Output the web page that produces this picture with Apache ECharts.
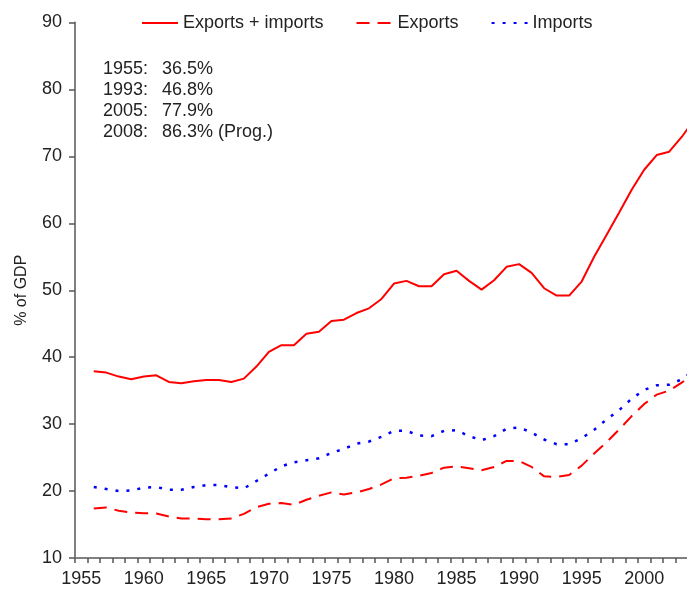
<!DOCTYPE html>
<html>
<head>
<meta charset="utf-8">
<script src="https://cdn.jsdelivr.net/npm/echarts@6/dist/echarts.min.js"></script>
<style>
  html, body { margin: 0; padding: 0; background: #fff; }
  #chart { width: 687px; height: 596px; }
</style>
</head>
<body>
<div id="chart"></div>
<script>
  // x axis categories (one band per year)
  var years = ['1955', '1956', '1957', '1958', '1959', '1960', '1961', '1962', '1963', '1964',
    '1965', '1966', '1967', '1968', '1969', '1970', '1971', '1972', '1973', '1974',
    '1975', '1976', '1977', '1978', '1979', '1980', '1981', '1982', '1983', '1984',
    '1985', '1986', '1987', '1988', '1989', '1990', '1991', '1992', '1993', '1994',
    '1995', '1996', '1997', '1998', '1999', '2000', '2001', '2002', '2003', '2004', '2005'];

  // series start in 1956
  var seriesYears = years.slice(1);

  var totalShare = [37.9, 37.7, 37.1, 36.7, 37.1, 37.3, 36.3, 36.1, 36.4, 36.6,
    36.6, 36.3, 36.8, 38.6, 40.8, 41.8, 41.8, 43.5, 43.8, 45.4,
    45.6, 46.6, 47.3, 48.7, 51.0, 51.4, 50.6, 50.6, 52.4, 52.9,
    51.4, 50.1, 51.5, 53.5, 53.9, 52.6, 50.3, 49.2, 49.2, 51.3,
    55.0, 58.3, 61.6, 65.0, 68.0, 70.2, 70.7, 72.9, 75.5, 77.9];

  var exportsShare = [17.4, 17.55, 17.05, 16.8, 16.7, 16.65, 16.2, 15.9, 15.9, 15.8,
    15.8, 15.9, 16.6, 17.6, 18.1, 18.2, 17.95, 18.7, 19.3, 19.8,
    19.5, 19.8, 20.3, 21.0, 21.9, 22.0, 22.3, 22.7, 23.5, 23.7,
    23.4, 23.1, 23.6, 24.5, 24.5, 23.6, 22.2, 22.1, 22.4, 23.8,
    25.6, 27.3, 29.2, 31.2, 33.0, 34.4, 35.0, 36.2, 37.5, 39.0];

  var importsShare = [20.6, 20.3, 20.0, 20.1, 20.5, 20.6, 20.2, 20.2, 20.6, 20.9,
    20.9, 20.6, 20.4, 21.5, 22.6, 23.7, 24.3, 24.6, 24.9, 25.7,
    26.3, 27.1, 27.4, 28.1, 29.0, 29.0, 28.3, 28.2, 29.0, 29.1,
    28.2, 27.6, 28.2, 29.3, 29.5, 28.75, 27.7, 27.0, 27.0, 27.9,
    29.15, 30.7, 32.1, 33.8, 35.1, 35.8, 35.9, 36.7, 38.0, 38.9];

  var seriesNames = ['Exports + imports', 'Exports', 'Imports'];

  // note block in the upper left
  var noteYears = ['1955:', '1993:', '2005:', '2008:'];
  var noteValues = ['36.5%', '46.8%', '77.9%', '86.3% (Prog.)'];

  var FONT = '"Liberation Sans", Arial, sans-serif';
  var TEXT = '#222222';
  var AXIS = '#808080';

  function pairs(values) {
    var out = [];
    for (var i = 0; i < values.length; i++) {
      out.push([seriesYears[i], values[i]]);
    }
    return out;
  }

  var myChart = echarts.init(document.getElementById('chart'), null, { renderer: 'canvas' });

  myChart.setOption({
    animation: false,
    textStyle: { fontFamily: FONT },
    legend: {
      left: 136,
      top: 9,
      itemWidth: 36,
      itemHeight: 14,
      itemGap: 32,
      itemStyle: { opacity: 0 },
      textStyle: { fontFamily: FONT, fontSize: 18, color: TEXT },
      data: seriesNames
    },
    grid: {
      left: 75,
      top: 22.5,
      bottom: 38,
      right: -26,
      outerBoundsMode: 'none',
      containLabel: false
    },
    xAxis: {
      type: 'category',
      data: years,
      boundaryGap: true,
      axisLine: { lineStyle: { color: AXIS, width: 2 } },
      axisTick: { show: true, interval: 0, alignWithLabel: false, length: 5, lineStyle: { color: '#555555', width: 1.5 } },
      axisLabel: { interval: 4, margin: 12, fontSize: 18, color: TEXT, fontFamily: FONT },
      splitLine: { show: false }
    },
    yAxis: {
      type: 'value',
      min: 10,
      max: 90,
      interval: 10,
      name: '% of GDP',
      nameLocation: 'middle',
      nameGap: 45,
      nameTextStyle: { fontSize: 16, color: TEXT, fontFamily: FONT },
      axisLine: { show: true, lineStyle: { color: AXIS, width: 2 } },
      axisTick: { show: true, length: 6, lineStyle: { color: '#555555', width: 1.5 } },
      axisLabel: { margin: 13, fontSize: 18, color: TEXT, fontFamily: FONT },
      splitLine: { show: false }
    },
    graphic: [
      {
        type: 'text',
        left: 103,
        top: 59,
        style: { text: noteYears.join('\n'), fontSize: 18, lineHeight: 21, fill: TEXT, fontFamily: FONT }
      },
      {
        type: 'text',
        left: 162,
        top: 59,
        style: { text: noteValues.join('\n'), fontSize: 18, lineHeight: 21, fill: TEXT, fontFamily: FONT }
      }
    ],
    series: [
      {
        name: seriesNames[0],
        type: 'line',
        symbol: 'none',
        data: pairs(totalShare),
        lineStyle: { color: '#ff0000', width: 2 },
        itemStyle: { color: '#ff0000' }
      },
      {
        name: seriesNames[1],
        type: 'line',
        symbol: 'none',
        data: pairs(exportsShare),
        lineStyle: { color: '#ff0000', width: 2, type: [13, 8] },
        itemStyle: { color: '#ff0000' }
      },
      {
        name: seriesNames[2],
        type: 'line',
        symbol: 'none',
        data: pairs(importsShare),
        lineStyle: { color: '#0000ff', width: 2.5, type: [3, 8] },
        itemStyle: { color: '#0000ff' }
      }
    ]
  });
</script>
</body>
</html>
